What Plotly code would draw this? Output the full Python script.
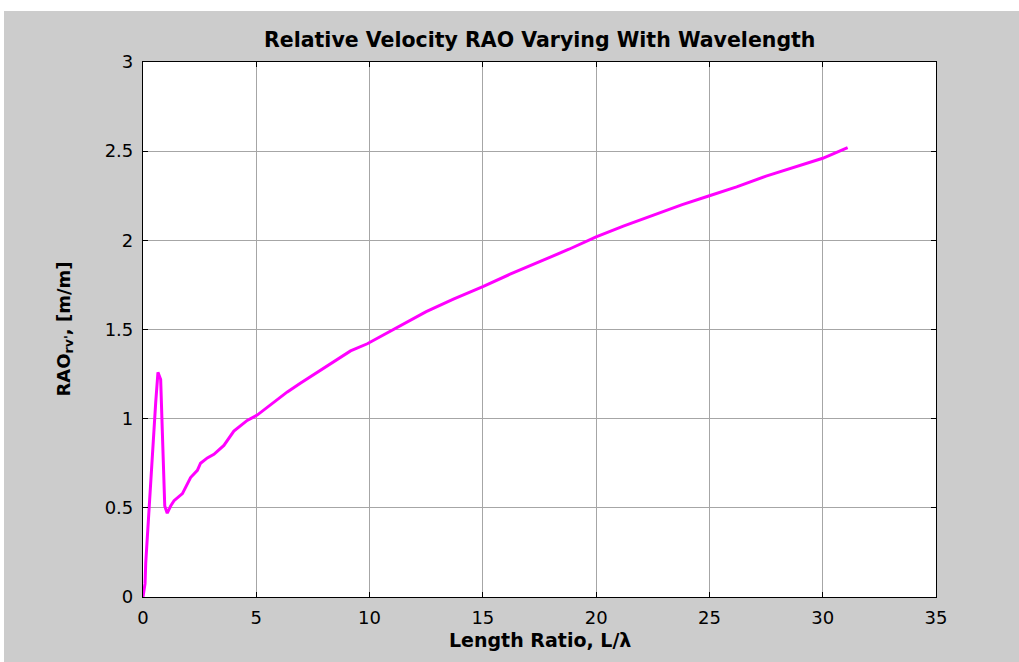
import plotly.graph_objects as go

# Length ratio L/lambda and relative velocity RAO readings
length_ratio = [0.0, 0.09, 0.12, 0.19, 0.26, 0.34, 0.41, 0.49, 0.56, 0.66, 0.78, 0.85,
                0.96, 1.07, 1.22, 1.37, 1.74, 2.10, 2.40, 2.54, 2.84, 3.13, 3.57, 4.01,
                4.60, 5.04, 5.63, 6.37, 6.96, 7.69, 8.43, 9.16, 9.90, 10.63, 11.15,
                12.5, 13.7, 15.0, 16.2, 17.5, 18.8, 20.0, 21.2, 22.5, 23.8, 25.0,
                26.2, 27.5, 28.8, 30.0, 31.1]
rao_rv = [0.0, 0.075, 0.19, 0.34, 0.49, 0.62, 0.79, 0.96, 1.09, 1.26, 1.22, 0.94,
          0.51, 0.47, 0.51, 0.54, 0.58, 0.67, 0.71, 0.75, 0.78, 0.80, 0.85, 0.93,
          0.99, 1.02, 1.08, 1.15, 1.20, 1.26, 1.32, 1.38, 1.42, 1.47, 1.51,
          1.60, 1.67, 1.74, 1.81, 1.88, 1.95, 2.02, 2.08, 2.14, 2.20, 2.25,
          2.30, 2.36, 2.41, 2.46, 2.52]

x_ticks = [0, 5, 10, 15, 20, 25, 30, 35]
y_ticks = [0, 0.5, 1, 1.5, 2, 2.5, 3]

title_text = "Relative Velocity RAO Varying With Wavelength"
x_label = "Length Ratio, L/λ"
y_label = "RAO<sub>rv'</sub>, [m/m]"

fig = go.Figure()
fig.add_trace(go.Scatter(x=length_ratio, y=rao_rv, mode="lines",
                         line=dict(color="#ff00ff", width=3), showlegend=False))

L, R, T, B = 143, 83, 62, 65
W, H = 1019, 662
pw, ph = W - L - R, H - T - B

tick_font = dict(family="DejaVu Sans", size=18, color="black")
lab_font = dict(family="DejaVu Sans", size=18, color="black")

axis_common = dict(showline=True, linecolor="black", linewidth=1.2, mirror="ticks",
                   ticks="inside", ticklen=5, tickcolor="black", showgrid=True,
                   gridcolor="#a6a6a6", gridwidth=1, zeroline=False,
                   tickfont=tick_font)

fig.update_layout(
    width=W, height=H,
    margin=dict(l=L, r=R, t=T, b=B),
    paper_bgcolor="#cccccc", plot_bgcolor="white",
    xaxis=dict(range=[0, 35], tickvals=x_ticks, ticklabelstandoff=4, **axis_common),
    yaxis=dict(range=[0, 3], tickvals=y_ticks, ticklabelstandoff=5, **axis_common),
    annotations=[
        dict(text="<b>" + title_text + "</b>", xref="paper", yref="paper",
             x=0.5, y=1 + (T - 40) / ph, xanchor="center", yanchor="middle",
             showarrow=False, font=dict(family="DejaVu Sans", size=20.5, color="black")),
        dict(text="<b>" + x_label + "</b>", xref="paper", yref="paper",
             x=0.5, y=-(640 - (H - B)) / ph, xanchor="center", yanchor="middle",
             showarrow=False, font=dict(family="DejaVu Sans", size=19, color="black")),
        dict(text="<b>" + y_label + "</b>", xref="paper", yref="paper",
             x=-(L - 64) / pw, y=0.5, xanchor="center", yanchor="middle",
             textangle=-90, showarrow=False, font=lab_font),
    ],
    shapes=[
        dict(type="rect", xref="paper", yref="paper", layer="below",
             x0=-1, x1=2, y0=(H - B - 11) / ph, y1=2,
             fillcolor="white", line=dict(width=0)),
        dict(type="rect", xref="paper", yref="paper", layer="below",
             x0=-1, x1=-(L - 4) / pw, y0=-1, y1=2,
             fillcolor="white", line=dict(width=0)),
    ],
)

fig.write_html("out.html", config={"displayModeBar": False},
               post_script="document.body.style.margin='0';")
